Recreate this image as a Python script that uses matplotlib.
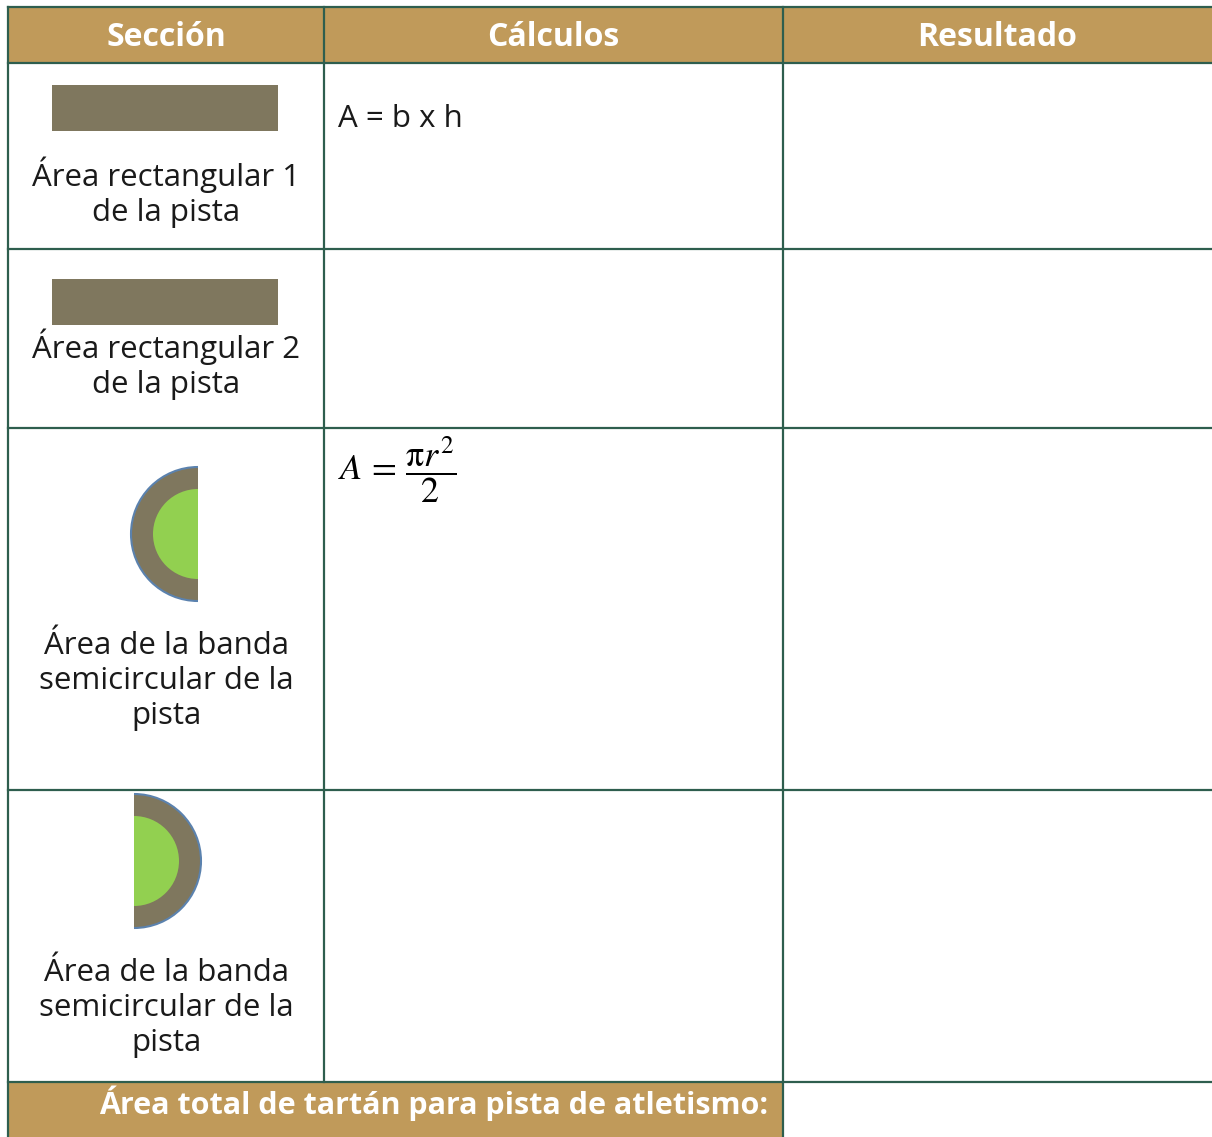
import matplotlib.pyplot as plt
from matplotlib.patches import Rectangle, Wedge, Arc

plt.rcParams['mathtext.fontset'] = 'stix'

GOLD = '#C09A5A'
LINE = '#2E5E4E'
BROWN = '#7F775E'
GREEN = '#92D050'
BLUE = '#5B82AE'

headers = ['Sección', 'Cálculos', 'Resultado']
sections = ['Área rectangular 1\nde la pista',
            'Área rectangular 2\nde la pista',
            'Área de la banda\nsemicircular de la\npista',
            'Área de la banda\nsemicircular de la\npista']
formulas = ['A = b x h', '', r'$A\,=\,\dfrac{\mathrm{\pi} r^2}{2}$', '']
total_label = 'Área total de tartán para pista de atletismo:'

# table layout in pixels
col_x = [8, 324, 783, 1230]
row_y = [7, 63, 249, 428, 790, 1082, 1150]

fig = plt.figure(figsize=(12.12, 11.37), dpi=100)
ax = fig.add_axes([0, 0, 1, 1])
ax.set_xlim(0, 1212)
ax.set_ylim(1137, 0)
ax.axis('off')

# header and footer fills
ax.add_patch(Rectangle((col_x[0], row_y[0]), col_x[3] - col_x[0], row_y[1] - row_y[0], color=GOLD, lw=0))
ax.add_patch(Rectangle((col_x[0], row_y[5]), col_x[2] - col_x[0], row_y[6] - row_y[5], color=GOLD, lw=0))

# grid lines
for y in row_y[:6]:
    ax.plot([col_x[0], col_x[3]], [y, y], color=LINE, lw=1.6)
for i, x in enumerate(col_x[:3]):
    y1 = row_y[6] if i != 1 else row_y[5]
    ax.plot([x, x], [row_y[0], y1], color=LINE, lw=1.6)

# header text
for i, h in enumerate(headers):
    cx = (col_x[i] + min(col_x[i + 1], 1212)) / 2
    ax.text(cx, 38, h, ha='center', va='center', color='white',
            fontsize=23, fontweight='bold', family='Open Sans')

# section labels
label_y = [192, 364, 681, 1008]
for s, y in zip(sections, label_y):
    ax.text(166, y, s, ha='center', va='center', fontsize=22.5,
            family='Open Sans', color='#1a1a1a', linespacing=1.22)

# shapes
ax.add_patch(Rectangle((52, 85), 226, 46, color=BROWN, lw=0))
ax.add_patch(Rectangle((52, 279), 226, 46, color=BROWN, lw=0))

ax.add_patch(Wedge((198, 534), 67, 90, 270, facecolor=BROWN, edgecolor='none'))
ax.add_patch(Arc((198, 534), 134, 134, theta1=90, theta2=270, color=BLUE, lw=1.5))
ax.add_patch(Wedge((198, 534), 45, 90, 270, facecolor=GREEN, edgecolor='none'))

ax.add_patch(Wedge((134, 861), 67, -90, 90, facecolor=BROWN, edgecolor='none'))
ax.add_patch(Arc((134, 861), 134, 134, theta1=-90, theta2=90, color=BLUE, lw=1.5))
ax.add_patch(Wedge((134, 861), 45, -90, 90, facecolor=GREEN, edgecolor='none'))

# formulas
ax.text(338, 119, formulas[0], ha='left', va='center', fontsize=22.5,
        family='Open Sans', color='#1a1a1a')
ax.text(338, 470, formulas[2], ha='left', va='center', fontsize=26, color='black')

# footer
ax.text(768, 1103, total_label, ha='right', va='center', color='white',
        fontsize=22, fontweight='bold', family='Open Sans')

fig.savefig('out.png', dpi=100)
